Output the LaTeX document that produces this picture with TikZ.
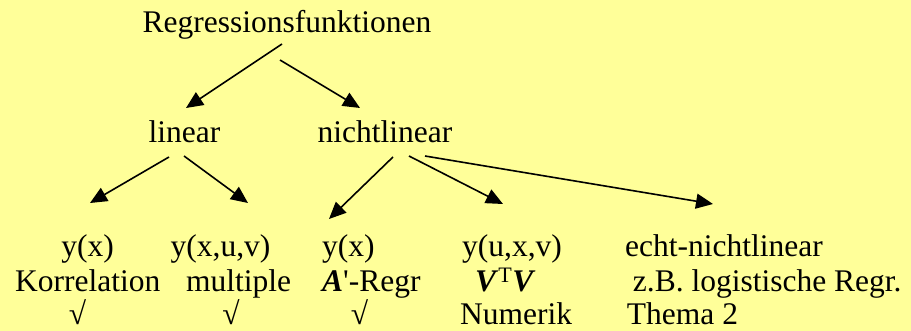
\documentclass[tikz,border=0pt]{standalone}
\usepackage{fontspec}
\setmainfont{Liberation Serif}
\usetikzlibrary{arrows.meta}
\definecolor{bgyellow}{RGB}{255,255,153}
\newcommand{\bfit}[1]{\textbf{\textit{#1}}}

\begin{document}
\begin{tikzpicture}[x=1pt,y=-1pt,
  txt/.style={inner sep=0pt,font=\fontsize{31.5}{36}\selectfont},
  arr/.style={line width=1.6pt,-{Triangle[length=17pt,width=15pt]}}]
\fill[bgyellow] (0,0) rectangle (911,331);
\useasboundingbox (0,0) rectangle (911,331);
%% top
\node[txt,anchor=base] (regr) at (287,33) {Regressionsfunktionen};
\node[txt,anchor=base] (lin) at (184.5,143) {linear};
\node[txt,anchor=base] (nlin) at (385,143) {nichtlinear};
%% first row
\node[txt,anchor=base] (yx1) at (87.7,257) {y(x)};
\node[txt,anchor=base] (yxuv) at (220.5,257) {y(x,u,v)};
\node[txt,anchor=base west] (yx2) at (322,257) {y(x)};
\node[txt,anchor=base west] (yuxv) at (462,257) {y(u,x,v)};
\node[txt,anchor=base west] (echt) at (625,257) {echt-nichtlinear};
%% second row
\node[txt,anchor=base west] (korr) at (15,292) {Korrelation};
\node[txt,anchor=base west] (mult) at (186,292) {multiple};
\node[txt,anchor=base west] (aregr) at (322,292) {\bfit{A}\textquotesingle-Regr};
\node[txt,anchor=base west] (vtv) at (475,292) {\bfit{V}\textsuperscript{T}\bfit{V}};
\node[txt,anchor=base west] (zb) at (632.7,292) {z.B. logistische Regr.};
%% third row
\node[txt,anchor=base] (chka) at (77.5,325) {√};
\node[txt,anchor=base] (chkb) at (231,325) {√};
\node[txt,anchor=base] (chkc) at (359.5,325) {√};
\node[txt,anchor=base west] (num) at (460,325) {Numerik};
\node[txt,anchor=base west] (thema) at (626.7,325) {Thema 2};
%% arrows
\draw[arr] ([shift={(-5,11)}]regr.base) -- ([shift={(1.5,-35)}]lin.base);
\draw[arr] ([shift={(-7,27)}]regr.base) -- ([shift={(-25,-35)}]nlin.base);
\draw[arr] ([shift={(-15.5,14)}]lin.base) -- ([shift={(2.3,-54)}]yx1.base);
\draw[arr] ([shift={(-0.5,13)}]lin.base) -- ([shift={(27.5,-54)}]yxuv.base);
\draw[arr] ([shift={(8,14)}]nlin.base) -- ([shift={(7,-38)}]yx2.base west);
\draw[arr] ([shift={(24,13)}]nlin.base) -- ([shift={(41,-53)}]yuxv.base west);
\draw[arr] ([shift={(40,13)}]nlin.base) -- ([shift={(88,-53)}]echt.base west);
\end{tikzpicture}
\end{document}
